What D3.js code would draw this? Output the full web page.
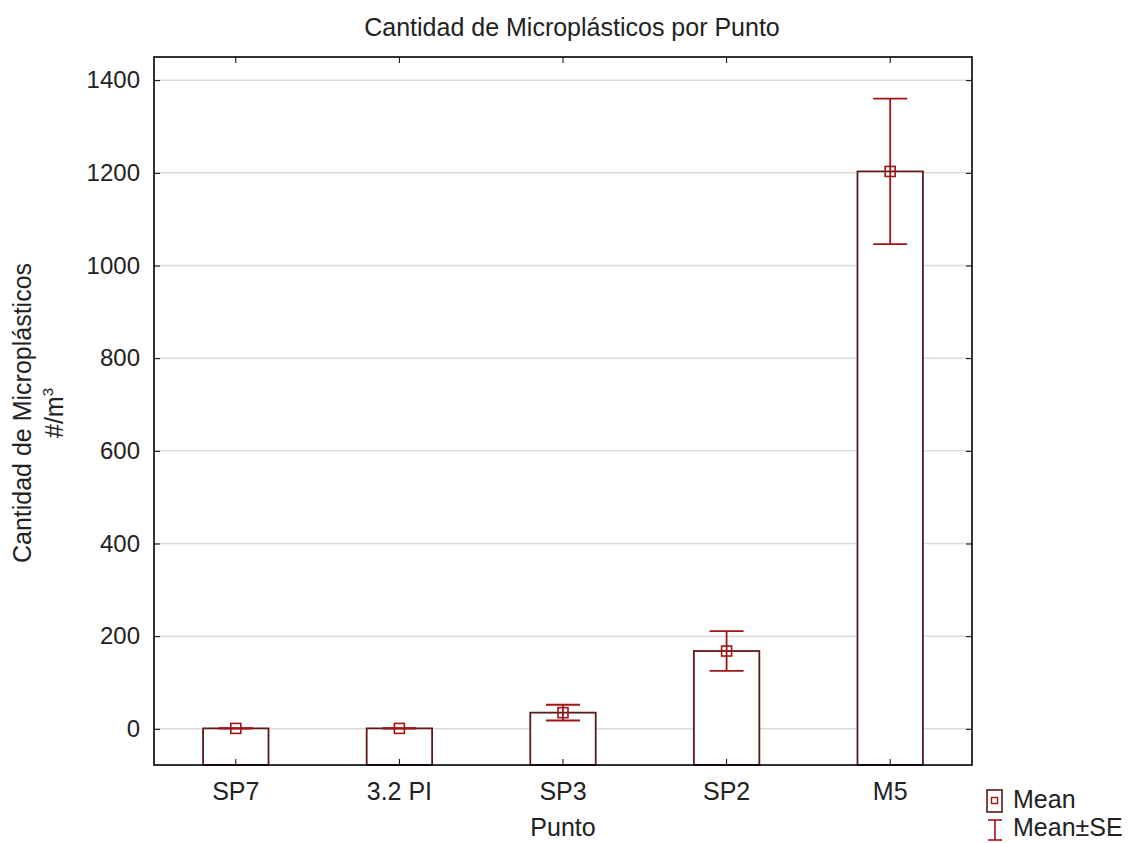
<!DOCTYPE html>
<meta charset="utf-8">
<style>
body { margin: 0; background: #fff; }
text { font-family: "Liberation Sans", Arial, sans-serif; fill: #222; }
.grid line { stroke: #dcdcdc; stroke-width: 1.5; }
.axis .domain { display: none; }
.axis line { stroke: #000; }
.axis text { font-size: 24px; }
.xaxis text { font-size: 25px; }
</style>
<svg width="1129" height="843"></svg>
<script src="https://d3js.org/d3.v7.min.js"></script>
<script>

var puntos = ["SP7", "3.2 PI", "SP3", "SP2", "M5"];
var medias = [1, 1, 35, 168, 1203];
var errores = [0.5, 0.5, 17, 43, 157];
var yTicks = [0, 200, 400, 600, 800, 1000, 1200, 1400];

var svg = d3.select("svg"),
    margin = {top: 57, right: 157, bottom: 78, left: 154},
    width = +svg.attr("width") - margin.left - margin.right,
    height = +svg.attr("height") - margin.top - margin.bottom;

var x = d3.scaleBand()
    .domain(puntos)
    .range([0, width])
    .paddingInner(0.6)
    .paddingOuter(0.3);

var y = d3.scaleLinear()
    .domain([-78, 1450])
    .range([height, 0]);

var g = svg.append("g")
    .attr("transform", "translate(" + margin.left + "," + margin.top + ")");

// grid
g.append("g")
    .attr("class", "grid")
  .selectAll("line")
  .data(yTicks)
  .enter().append("line")
    .attr("x1", 0)
    .attr("x2", width)
    .attr("y1", function(d) { return y(d); })
    .attr("y2", function(d) { return y(d); });

// bars
g.selectAll(".bar")
  .data(puntos)
  .enter().append("rect")
    .attr("class", "bar")
    .attr("x", function(d) { return x(d); })
    .attr("width", x.bandwidth())
    .attr("y", function(d, i) { return y(medias[i]); })
    .attr("height", function(d, i) { return height - y(medias[i]); })
    .attr("fill", "#fff")
    .attr("stroke", "#5e1a1a")
    .attr("stroke-width", 1.8);

// axes (ticks inside)
g.append("g")
    .attr("class", "axis")
    .call(d3.axisLeft(y).tickValues(yTicks).tickSize(-6).tickPadding(14).tickFormat(d3.format("d")));

g.append("g")
    .attr("class", "axis")
    .attr("transform", "translate(" + width + ",0)")
    .call(d3.axisRight(y).tickValues(yTicks).tickSize(-6).tickFormat(""));

g.append("g")
    .attr("class", "axis xaxis")
    .attr("transform", "translate(0," + height + ")")
    .call(d3.axisBottom(x).tickSize(-6).tickPadding(17));

g.append("g")
    .attr("class", "axis")
    .call(d3.axisTop(x).tickSize(-6).tickFormat(""));

// error bars
var err = g.selectAll(".err")
  .data(puntos)
  .enter().append("g")
    .attr("class", "err")
    .attr("stroke", "#a01515")
    .attr("stroke-width", 1.8)
    .attr("fill", "none");

var cx = function(d) { return x(d) + x.bandwidth() / 2; };

err.append("line")
    .attr("x1", cx).attr("x2", cx)
    .attr("y1", function(d, i) { return y(medias[i] + errores[i]); })
    .attr("y2", function(d, i) { return y(medias[i] - errores[i]); });

err.append("line")
    .attr("x1", function(d) { return cx(d) - 17; })
    .attr("x2", function(d) { return cx(d) + 17; })
    .attr("y1", function(d, i) { return y(medias[i] + errores[i]); })
    .attr("y2", function(d, i) { return y(medias[i] + errores[i]); });

err.append("line")
    .attr("x1", function(d) { return cx(d) - 17; })
    .attr("x2", function(d) { return cx(d) + 17; })
    .attr("y1", function(d, i) { return y(medias[i] - errores[i]); })
    .attr("y2", function(d, i) { return y(medias[i] - errores[i]); });

err.append("rect")
    .attr("x", function(d) { return cx(d) - 5; })
    .attr("y", function(d, i) { return y(medias[i]) - 5; })
    .attr("width", 10)
    .attr("height", 10)
    .attr("stroke-width", 1.6);

// frame
g.append("rect")
    .attr("width", width)
    .attr("height", height)
    .attr("fill", "none")
    .attr("stroke", "#000")
    .attr("stroke-width", 1.6);

// titles
svg.append("text")
    .attr("x", margin.left + width / 2 + 9)
    .attr("y", 36)
    .attr("text-anchor", "middle")
    .style("font-size", "25px")
    .text("Cantidad de Microplásticos por Punto");

svg.append("text")
    .attr("x", margin.left + width / 2)
    .attr("y", 836)
    .attr("text-anchor", "middle")
    .style("font-size", "25px")
    .text("Punto");

var yl = svg.append("text")
    .attr("transform", "translate(31," + (margin.top + height / 2 + 2) + ") rotate(-90)")
    .attr("text-anchor", "middle")
    .style("font-size", "25px");
yl.append("tspan").attr("x", 0).attr("dy", 0).text("Cantidad de Microplásticos");
yl.append("tspan").attr("x", 0).attr("dy", 32).text("#/m");
yl.append("tspan").attr("dy", -10).style("font-size", "15px").text("3");

// legend
var lg = svg.append("g").attr("transform", "translate(987,788)");
lg.append("rect").attr("x", 0).attr("y", 2).attr("width", 15).attr("height", 22)
    .attr("fill", "none").attr("stroke", "#5e1a1a").attr("stroke-width", 1.6);
lg.append("rect").attr("x", 4.5).attr("y", 9.5).attr("width", 6).attr("height", 6)
    .attr("fill", "none").attr("stroke", "#a01515").attr("stroke-width", 1.4);
lg.append("text").attr("x", 26).attr("y", 20).style("font-size", "25px").text("Mean");
var li = lg.append("g").attr("stroke", "#a01515").attr("stroke-width", 1.6);
li.append("line").attr("x1", 1).attr("x2", 15).attr("y1", 32).attr("y2", 32);
li.append("line").attr("x1", 8).attr("x2", 8).attr("y1", 32).attr("y2", 52);
li.append("line").attr("x1", 1).attr("x2", 15).attr("y1", 52).attr("y2", 52);
lg.append("text").attr("x", 26).attr("y", 48).style("font-size", "25px").text("Mean±SE");

</script>
